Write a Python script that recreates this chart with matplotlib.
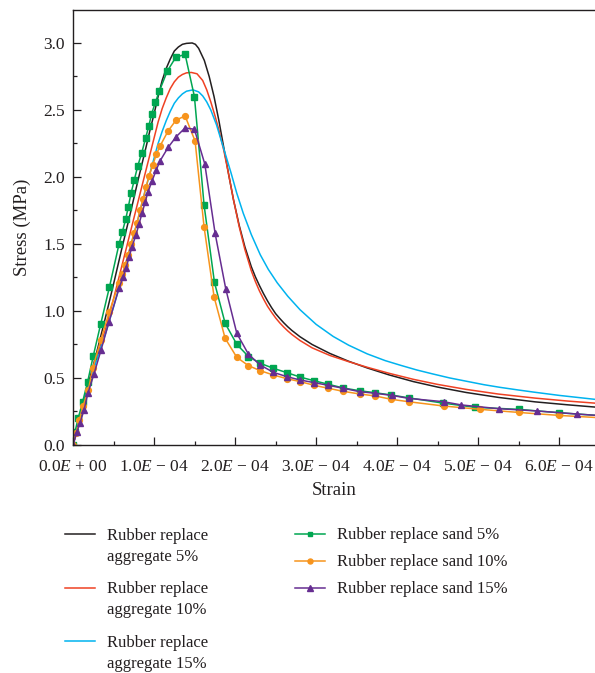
import matplotlib
matplotlib.use("Agg")
import matplotlib.pyplot as plt
from matplotlib.lines import Line2D
from matplotlib.ticker import MultipleLocator, FuncFormatter
import numpy as np

plt.rcParams['font.family'] = ['Liberation Serif', 'DejaVu Serif']
plt.rcParams['mathtext.fontset'] = 'custom'
plt.rcParams['mathtext.rm'] = 'Liberation Serif'
plt.rcParams['mathtext.it'] = 'Liberation Serif:italic'

# strain values are in units of 1e-4, stress in MPa
# Rubber replace aggregate 5% / 10% / 15% (smooth curves)
agg5_x = [0, 0.10, 0.20, 0.30, 0.40, 0.50, 0.60, 0.70, 0.80, 0.90, 0.95, 1.00, 1.05, 1.10, 1.15,
          1.20, 1.25, 1.30, 1.35, 1.40, 1.47, 1.51, 1.55, 1.62, 1.68, 1.74, 1.80, 1.86, 1.92, 1.98,
          2.05, 2.12, 2.20, 2.25, 2.30, 2.35, 2.40, 2.45, 2.50, 2.55, 2.60, 2.65, 2.70, 2.80, 2.95,
          3.17, 3.40, 3.63, 3.90, 4.20, 4.50, 4.85, 5.25, 5.70, 6.10, 6.60]
agg5_y = [0, 0.24, 0.48, 0.71, 0.95, 1.20, 1.46, 1.71, 1.97, 2.22, 2.35, 2.47, 2.60, 2.72, 2.81,
          2.88, 2.94, 2.97, 2.99, 2.997, 3.00, 2.99, 2.96, 2.87, 2.75, 2.60, 2.42, 2.22, 2.02, 1.83,
          1.64, 1.48, 1.33, 1.255, 1.19, 1.13, 1.075, 1.025, 0.98, 0.945, 0.912, 0.882, 0.855, 0.808, 0.75,
          0.683, 0.625, 0.575, 0.523, 0.473, 0.432, 0.392, 0.355, 0.322, 0.30, 0.275]

agg10_x = [0, 0.10, 0.20, 0.30, 0.40, 0.50, 0.60, 0.70, 0.80, 0.90, 1.00, 1.05, 1.10, 1.15, 1.20,
           1.25, 1.30, 1.35, 1.40, 1.46, 1.53, 1.60, 1.65, 1.70, 1.75, 1.80, 1.86, 1.92, 1.98, 2.05,
           2.12, 2.20, 2.25, 2.30, 2.35, 2.40, 2.45, 2.50, 2.55, 2.60, 2.65, 2.70, 2.80, 2.95, 3.17,
           3.40, 3.63, 3.90, 4.20, 4.50, 4.85, 5.25, 5.70, 6.10, 6.60]
agg10_y = [0, 0.23, 0.46, 0.67, 0.86, 1.09, 1.33, 1.57, 1.81, 2.05, 2.29, 2.41, 2.51, 2.59, 2.66,
           2.71, 2.745, 2.765, 2.777, 2.78, 2.77, 2.72, 2.65, 2.56, 2.46, 2.35, 2.20, 2.02, 1.83, 1.63,
           1.46, 1.30, 1.22, 1.15, 1.09, 1.035, 0.99, 0.948, 0.912, 0.88, 0.851, 0.825, 0.78, 0.725, 0.668,
           0.622, 0.58, 0.535, 0.49, 0.452, 0.415, 0.38, 0.35, 0.328, 0.305]

agg15_x = [0, 0.10, 0.20, 0.30, 0.40, 0.50, 0.60, 0.70, 0.80, 0.90, 1.00, 1.05, 1.10, 1.15, 1.20,
           1.25, 1.30, 1.35, 1.40, 1.48, 1.55, 1.60, 1.65, 1.70, 1.77, 1.83, 1.89, 1.95, 2.02, 2.10,
           2.20, 2.31, 2.41, 2.52, 2.65, 2.80, 3.00, 3.21, 3.40, 3.63, 3.85, 4.04, 4.24, 4.44, 4.65,
           4.86, 5.07, 5.27, 5.50, 5.68, 6.00, 6.30, 6.60]
agg15_y = [0, 0.24, 0.46, 0.65, 0.83, 1.03, 1.24, 1.46, 1.68, 1.92, 2.14, 2.25, 2.34, 2.42, 2.49,
           2.55, 2.59, 2.62, 2.64, 2.65, 2.635, 2.605, 2.56, 2.50, 2.39, 2.27, 2.15, 2.03, 1.88, 1.73,
           1.57, 1.42, 1.31, 1.21, 1.11, 1.01, 0.90, 0.81, 0.745, 0.68, 0.63, 0.595, 0.56, 0.53, 0.50,
           0.475, 0.45, 0.43, 0.41, 0.395, 0.37, 0.35, 0.33]

# Rubber replace sand 5% / 10% / 15% (line + symbol)
sand5_x = [0, 0.025, 0.066, 0.119, 0.181, 0.251, 0.342, 0.449, 0.568, 0.609, 0.650, 0.683, 0.716,
           0.757, 0.798, 0.848, 0.895, 0.935, 0.971, 1.016, 1.066, 1.164, 1.268, 1.383, 1.498, 1.617,
           1.745, 1.877, 2.021, 2.165, 2.309, 2.473, 2.638, 2.802, 2.977, 3.152, 3.337, 3.535, 3.728,
           3.926, 4.140, 4.570, 4.963, 5.498, 5.992, 6.600]
sand5_y = [0, 0.10, 0.204, 0.323, 0.473, 0.667, 0.903, 1.177, 1.500, 1.592, 1.684, 1.779, 1.878,
           1.980, 2.080, 2.180, 2.289, 2.380, 2.473, 2.557, 2.642, 2.791, 2.893, 2.915, 2.600, 1.791,
           1.214, 0.908, 0.751, 0.660, 0.610, 0.572, 0.540, 0.507, 0.479, 0.453, 0.425, 0.405, 0.390,
           0.373, 0.352, 0.312, 0.281, 0.266, 0.241, 0.215]

sand10_x = [0, 0.04, 0.08, 0.123, 0.189, 0.243, 0.342, 0.449, 0.568, 0.609, 0.642, 0.679, 0.716,
            0.753, 0.790, 0.827, 0.864, 0.901, 0.938, 0.985, 1.030, 1.074, 1.173, 1.272, 1.383, 1.506,
            1.617, 1.741, 1.877, 2.021, 2.165, 2.309, 2.473, 2.638, 2.802, 2.979, 3.152, 3.337, 3.535,
            3.728, 3.926, 4.140, 4.572, 5.025, 5.498, 5.992, 6.600]
sand10_y = [0, 0.09, 0.19, 0.29, 0.41, 0.572, 0.783, 0.995, 1.21, 1.274, 1.343, 1.418, 1.500,
            1.582, 1.657, 1.754, 1.836, 1.925, 2.007, 2.090, 2.172, 2.231, 2.343, 2.425, 2.455, 2.269,
            1.627, 1.104, 0.796, 0.654, 0.592, 0.555, 0.522, 0.495, 0.473, 0.445, 0.423, 0.400, 0.381,
            0.366, 0.341, 0.323, 0.291, 0.266, 0.243, 0.221, 0.200]

sand15_x = [0, 0.050, 0.086, 0.136, 0.185, 0.259, 0.346, 0.444, 0.568, 0.617, 0.654, 0.691, 0.728,
            0.778, 0.815, 0.852, 0.889, 0.926, 0.975, 1.025, 1.074, 1.173, 1.272, 1.383, 1.498, 1.626,
            1.753, 1.885, 2.021, 2.165, 2.309, 2.473, 2.638, 2.802, 2.979, 3.152, 3.337, 3.535, 3.728,
            3.935, 4.140, 4.572, 4.790, 5.250, 5.725, 6.218, 6.600]
sand15_y = [0, 0.10, 0.164, 0.261, 0.388, 0.530, 0.709, 0.918, 1.170, 1.250, 1.320, 1.400, 1.480,
            1.570, 1.650, 1.730, 1.810, 1.890, 1.970, 2.050, 2.120, 2.220, 2.300, 2.366, 2.356, 2.097,
            1.580, 1.164, 0.833, 0.677, 0.597, 0.542, 0.510, 0.485, 0.465, 0.445, 0.423, 0.398, 0.386,
            0.370, 0.348, 0.323, 0.299, 0.271, 0.254, 0.231, 0.215]

agg_labels = ['Rubber replace\naggregate 5%', 'Rubber replace\naggregate 10%', 'Rubber replace\naggregate 15%']
sand_labels = ['Rubber replace sand 5%', 'Rubber replace sand 10%', 'Rubber replace sand 15%']
agg_colors = ['#231f20', '#ef4123', '#00b3ef']
sand_colors = ['#00a651', '#f7941d', '#662d91']
sand_markers = ['s', 'o', '^']
sand_msize = [3.8, 4.2, 5.0]

W, H = 595, 673
fig = plt.figure(figsize=(W / 100, H / 100), dpi=100)
ax = fig.add_axes([73 / W, 1 - 445 / H, (W - 73) / W, (445 - 10) / H])

agg_series = [(agg5_x, agg5_y), (agg10_x, agg10_y), (agg15_x, agg15_y)]
sand_series = [(sand5_x, sand5_y), (sand10_x, sand10_y), (sand15_x, sand15_y)]

for (x, y), c in zip(agg_series, agg_colors):
    ax.plot(np.array(x) * 1e-4, y, color=c, lw=1.1)
for (x, y), c, m, ms in zip(sand_series, sand_colors, sand_markers, sand_msize):
    ax.plot(np.array(x) * 1e-4, y, color=c, lw=1.1, marker=m, ms=ms, mec=c, mfc=c)

ax.set_xlim(0, 6.44e-4)
ax.set_ylim(0, 3.246)


def sci_fmt(v, pos):
    s = '%.1E' % v
    mant, exp = s.split('E')
    sign = '+' if exp[0] == '+' else '\u2212'
    return mant + r'$\mathit{E}$' + ' ' + sign + ' ' + exp[1:]


ax.xaxis.set_major_locator(MultipleLocator(1e-4))
ax.xaxis.set_minor_locator(MultipleLocator(0.5e-4))
ax.xaxis.set_major_formatter(FuncFormatter(sci_fmt))
ax.yaxis.set_major_locator(MultipleLocator(0.5))
ax.yaxis.set_minor_locator(MultipleLocator(0.25))
ax.yaxis.set_major_formatter(FuncFormatter(lambda v, p: '%.1f' % v))

ax.tick_params(which='both', direction='in', width=0.9, colors='#231f20', labelsize=12.5)
ax.tick_params(which='major', length=5.5)
ax.tick_params(which='minor', length=3)
ax.tick_params(axis='x', pad=10)
ax.tick_params(axis='y', pad=6)
for sp in ['left', 'bottom', 'top']:
    ax.spines[sp].set_linewidth(1.0)
    ax.spines[sp].set_color('#231f20')
ax.spines['right'].set_visible(False)

ax.set_xlabel('Strain', fontsize=13.5, color='#231f20', labelpad=5)
ax.set_ylabel('Stress (MPa)', fontsize=13.5, color='#231f20', labelpad=9)

# legend, drawn by hand: aggregate entries on the left, sand entries on the right
leg_fs = 12
line_gap = 24
for i, (lab, c) in enumerate(zip(agg_labels, agg_colors)):
    yy = 534 + i * 53.5
    fig.add_artist(Line2D([65 / W, 95 / W], [1 - yy / H, 1 - yy / H], color=c, lw=1.1,
                          transform=fig.transFigure))
    # multi-line text with va='baseline' sits on its last line
    fig.text(107 / W, 1 - (yy + 3 + line_gap) / H, lab, fontsize=leg_fs, va='baseline', ha='left',
             linespacing=1.44, color='#231f20')
for i, (lab, c, m, ms) in enumerate(zip(sand_labels, sand_colors, sand_markers, sand_msize)):
    yy = 534 + i * 27
    fig.add_artist(Line2D([295 / W, 325 / W], [1 - yy / H, 1 - yy / H], color=c, lw=1.1,
                          transform=fig.transFigure))
    fig.add_artist(Line2D([310 / W], [1 - yy / H], color=c, marker=m, ms=ms - 0.6,
                          transform=fig.transFigure))
    fig.text(337 / W, 1 - (yy + 5) / H, lab, fontsize=leg_fs, va='baseline', ha='left',
             color='#231f20')

fig.savefig('out.png', dpi=100)
